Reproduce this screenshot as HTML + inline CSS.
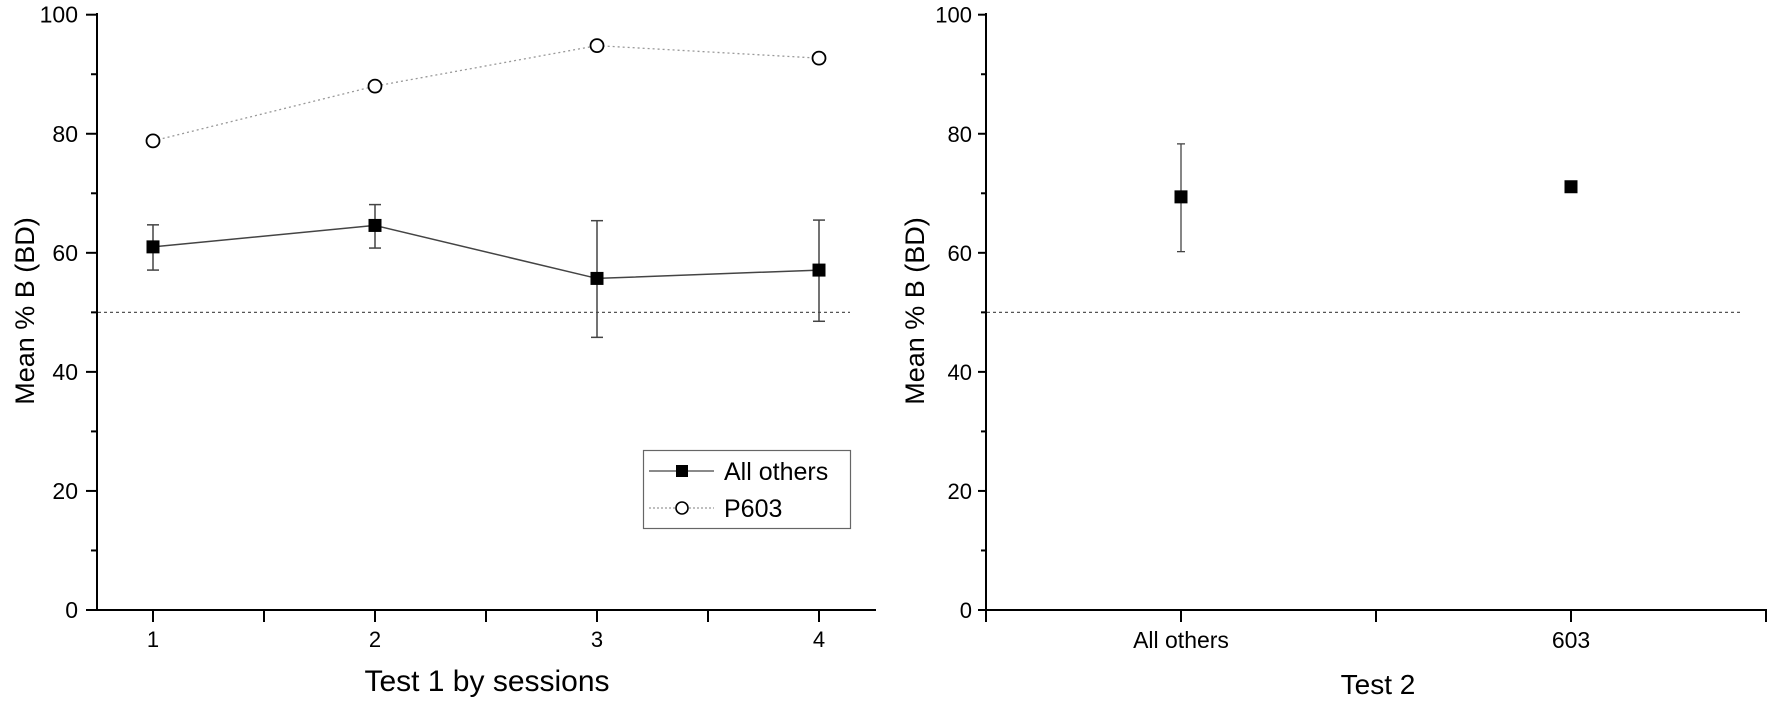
<!DOCTYPE html>
<html><head><meta charset="utf-8"><style>
html,body{margin:0;padding:0;background:#fff;}
svg{display:block;}
text{font-family:"Liberation Sans",Arial,sans-serif;fill:#000;}
</style></head><body>
<svg id="chart" width="1772" height="703" viewBox="0 0 1772 703" xmlns="http://www.w3.org/2000/svg"></svg>
<script>
const sessions = [1, 2, 3, 4];
const allOthersMean = [61.0, 64.6, 55.7, 57.1];
const allOthersUpper = [64.7, 68.1, 65.4, 65.5];
const allOthersLower = [57.1, 60.8, 45.8, 48.5];
const p603Values = [78.8, 88.0, 94.8, 92.7];
const yTicks = [0, 20, 40, 60, 80, 100];
const test2Categories = ["All others", "603"];
const test2Mean = [69.4, 71.1];
const test2Upper = [78.3, null];
const test2Lower = [60.2, null];
const chanceLevel = 50;

const NS = "http://www.w3.org/2000/svg";
const svg = document.getElementById("chart");
function mk(tag, attrs, parent) {
  const e = document.createElementNS(NS, tag);
  for (const k in attrs) e.setAttribute(k, attrs[k]);
  (parent || svg).appendChild(e);
  return e;
}
const yS = v => 610 - v * 5.953;
const xL = v => 153 + (v - 1) * 222;
const xR = i => 986 + (i + 0.5) * 390;

// ---------- Left panel ----------
const left = mk("g", {});


let cl = mk("line", {x1: 98, x2: 850, y1: yS(chanceLevel), y2: yS(chanceLevel), stroke: "#555", "stroke-width": 1.3, "stroke-dasharray": "3,3"}, left);


let ya = mk("line", {x1: 97, x2: 97, y1: 13, y2: 611, stroke: "#000", "stroke-width": 2}, left);


let xa = mk("line", {x1: 96, x2: 876, y1: 610, y2: 610, stroke: "#000", "stroke-width": 2}, left);


for (let v = 0; v <= 100; v += 10) {
  const major = v % 20 === 0;
  mk("line", {x1: major ? 86 : 91, x2: 97, y1: yS(v), y2: yS(v), stroke: "#000", "stroke-width": 2}, left);
}
yTicks.forEach(v => {
  const t = mk("text", {x: 78, y: yS(v) + 8, "text-anchor": "end", "font-size": 23}, left);
  t.textContent = v;
  
  
});
for (let v = 1; v <= 4.01; v += 0.5) {
  mk("line", {x1: xL(v), x2: xL(v), y1: 610, y2: 622, stroke: "#000", "stroke-width": 2}, left);
}
sessions.forEach(s => {
  const t = mk("text", {x: xL(s), y: 647, "text-anchor": "middle", "font-size": 22}, left);
  t.textContent = s;
  
  
});
let yt = mk("text", {x: 0, y: 0, "text-anchor": "middle", "font-size": 27, transform: "translate(34,311) rotate(-90)"}, left);
yt.textContent = "Mean % B (BD)";


let xt = mk("text", {x: 487, y: 691, "text-anchor": "middle", "font-size": 30}, left);
xt.textContent = "Test 1 by sessions";



let pl = mk("polyline", {points: sessions.map((s, i) => xL(s) + "," + yS(p603Values[i])).join(" "), fill: "none", stroke: "#999", "stroke-width": 1.3, "stroke-dasharray": "2,3"}, left);


sessions.forEach((s, i) => {
  const c = mk("circle", {cx: xL(s), cy: yS(p603Values[i]), r: 6.5, fill: "#fff", stroke: "#000", "stroke-width": 1.8}, left);
  
  
});
let al = mk("polyline", {points: sessions.map((s, i) => xL(s) + "," + yS(allOthersMean[i])).join(" "), fill: "none", stroke: "#444", "stroke-width": 1.5}, left);


sessions.forEach((s, i) => {
  const x = xL(s);
  const g = mk("g", {stroke: "#444", "stroke-width": 1.5}, left);
  
  
  mk("line", {x1: x, x2: x, y1: yS(allOthersUpper[i]), y2: yS(allOthersLower[i])}, g);
  mk("line", {x1: x - 6, x2: x + 6, y1: yS(allOthersUpper[i]), y2: yS(allOthersUpper[i])}, g);
  mk("line", {x1: x - 6, x2: x + 6, y1: yS(allOthersLower[i]), y2: yS(allOthersLower[i])}, g);
  const r = mk("rect", {x: x - 6.5, y: yS(allOthersMean[i]) - 6.5, width: 13, height: 13, fill: "#000"}, left);
  
  
});
const lg = mk("g", {}, left);


mk("rect", {x: 643.5, y: 450.5, width: 207, height: 78, fill: "#fff", stroke: "#666", "stroke-width": 1.2}, lg);
mk("line", {x1: 649, x2: 714, y1: 471, y2: 471, stroke: "#444", "stroke-width": 1.3}, lg);
mk("rect", {x: 676, y: 465, width: 12, height: 12, fill: "#000"}, lg);
mk("line", {x1: 649, x2: 714, y1: 508, y2: 508, stroke: "#999", "stroke-width": 1.3, "stroke-dasharray": "2,2"}, lg);
mk("circle", {cx: 682, cy: 508, r: 6, fill: "#fff", stroke: "#000", "stroke-width": 1.6}, lg);
let l1 = mk("text", {x: 724, y: 480, "font-size": 25}, lg);
l1.textContent = "All others";


let l2 = mk("text", {x: 724, y: 517, "font-size": 25}, lg);
l2.textContent = "P603";



// ---------- Right panel ----------
const right = mk("g", {});


let cl2 = mk("line", {x1: 987, x2: 1743, y1: yS(chanceLevel), y2: yS(chanceLevel), stroke: "#555", "stroke-width": 1.3, "stroke-dasharray": "3,3"}, right);


let ya2 = mk("line", {x1: 986, x2: 986, y1: 13, y2: 611, stroke: "#000", "stroke-width": 2}, right);


let xa2 = mk("line", {x1: 980, x2: 1767, y1: 610, y2: 610, stroke: "#000", "stroke-width": 2}, right);


for (let v = 0; v <= 100; v += 10) {
  const major = v % 20 === 0;
  mk("line", {x1: major ? 978 : 981, x2: 986, y1: yS(v), y2: yS(v), stroke: "#000", "stroke-width": 2}, right);
}
yTicks.forEach(v => {
  const t = mk("text", {x: 972, y: yS(v) + 8, "text-anchor": "end", "font-size": 22}, right);
  t.textContent = v;
  
  
});
[986, 1181, 1376, 1571, 1766].forEach(x => mk("line", {x1: x, x2: x, y1: 610, y2: 622, stroke: "#000", "stroke-width": 2}, right));
test2Categories.forEach((c, i) => {
  const t = mk("text", {x: xR(i), y: 648, "text-anchor": "middle", "font-size": 23}, right);
  t.textContent = c;
  
  
});
let yt2 = mk("text", {x: 0, y: 0, "text-anchor": "middle", "font-size": 27, transform: "translate(924,311) rotate(-90)"}, right);
yt2.textContent = "Mean % B (BD)";


let xt2 = mk("text", {x: 1378, y: 694, "text-anchor": "middle", "font-size": 28}, right);
xt2.textContent = "Test 2";


test2Categories.forEach((c, i) => {
  const x = xR(i);
  if (test2Upper[i] !== null) {
    const g = mk("g", {stroke: "#444", "stroke-width": 1.3}, right);
    
    
    mk("line", {x1: x, x2: x, y1: yS(test2Upper[i]), y2: yS(test2Lower[i])}, g);
    mk("line", {x1: x - 4, x2: x + 4, y1: yS(test2Upper[i]), y2: yS(test2Upper[i])}, g);
    mk("line", {x1: x - 4, x2: x + 4, y1: yS(test2Lower[i]), y2: yS(test2Lower[i])}, g);
  }
  const r = mk("rect", {x: x - 6.5, y: yS(test2Mean[i]) - 6.5, width: 13, height: 13, fill: "#000"}, right);
  
  
});
</script>
</body></html>
